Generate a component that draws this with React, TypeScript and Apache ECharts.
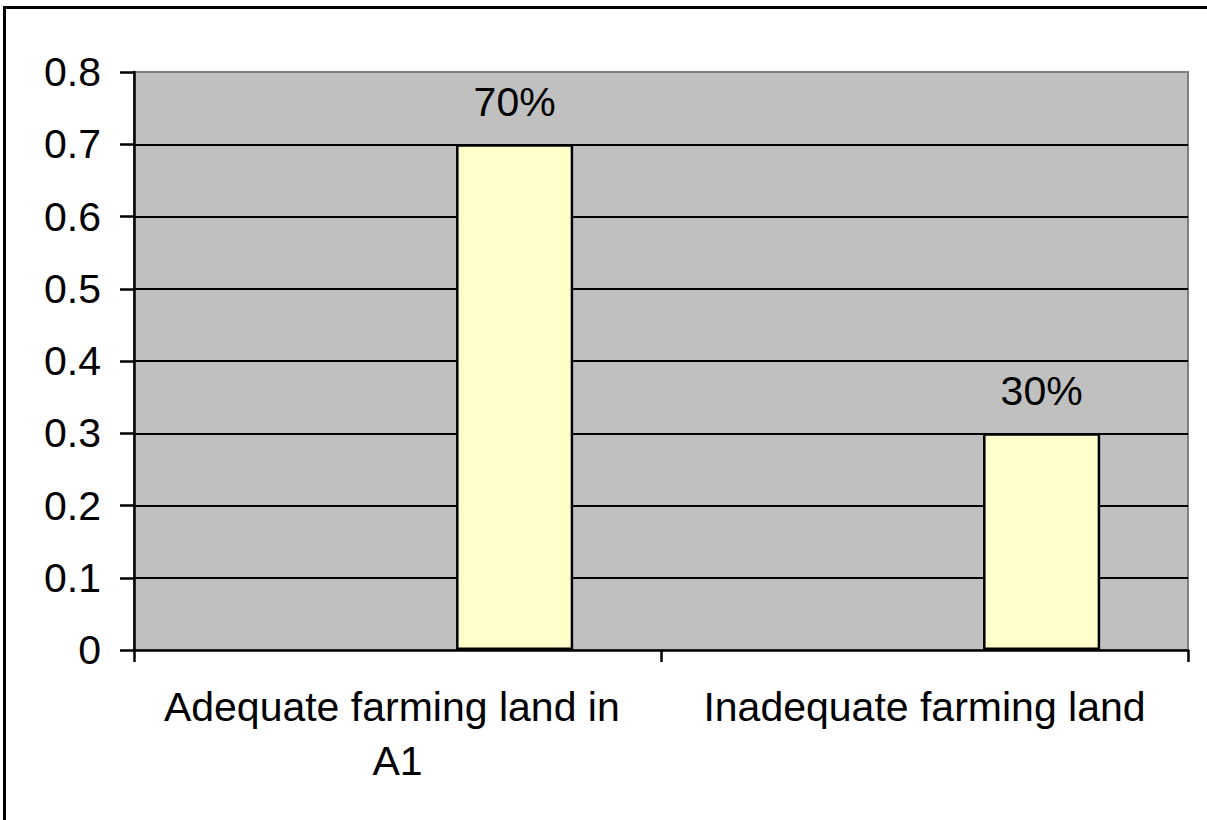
import React, { useEffect, useRef } from "react";
import * as echarts from "echarts";

const categories = ["Adequate farming land in A1", "Inadequate farming land"];
const emptySeriesA: (number | null)[] = [null, null];
const emptySeriesB: (number | null)[] = [null, null];
const shareValues = [0.7, 0.3];
const yTicks = { min: 0, max: 0.8, interval: 0.1 };

const FONT = "Arial, 'Liberation Sans', Helvetica, sans-serif";
const FS = 41;

export default function App() {
  const ref = useRef<HTMLDivElement>(null);
  useEffect(() => {
    if (!ref.current) return;
    const chart = echarts.init(ref.current, null, { renderer: "svg" });
    chart.setOption({
      animation: false,
      backgroundColor: "#ffffff",
      textStyle: { fontFamily: FONT },
      grid: {
        left: 134,
        right: 19,
        top: 72,
        bottom: 170,
        show: true,
        backgroundColor: "#C0C0C0",
        borderColor: "#808080",
        borderWidth: 2,
        containLabel: false,
      },
      xAxis: {
        type: "category",
        data: categories,
        boundaryGap: true,
        axisLine: { show: true, lineStyle: { color: "#000", width: 2.5 } },
        axisTick: { show: true, length: 12, interval: 0, lineStyle: { color: "#000", width: 2.5 } },
        axisLabel: {
          interval: 0,
          color: "#000",
          fontSize: FS,
          fontFamily: FONT,
          margin: 30,
          lineHeight: 54,
          width: 480,
          overflow: "break",
          align: "center",
        },
        splitLine: { show: false },
      },
      yAxis: {
        type: "value",
        min: yTicks.min,
        max: yTicks.max,
        interval: yTicks.interval,
        axisLine: { show: true, lineStyle: { color: "#000", width: 2.5 } },
        axisTick: { show: true, length: 14, lineStyle: { color: "#000", width: 2.5 } },
        axisLabel: {
          color: "#000",
          fontSize: FS,
          fontFamily: FONT,
          margin: 33,
          formatter: (v: number) => String(Math.round(v * 10) / 10),
        },
        splitLine: {
          show: true,
          showMinLine: false,
          showMaxLine: false,
          lineStyle: { color: "#000", width: 2 },
        },
      },
      series: [
        { type: "bar", data: emptySeriesA, barGap: "0%", barCategoryGap: "33.333%" },
        { type: "bar", data: emptySeriesB, barGap: "0%", barCategoryGap: "33.333%" },
        {
          type: "bar",
          data: shareValues,
          barGap: "0%",
          barCategoryGap: "33.333%",
          itemStyle: { color: "#FFFFCC", borderColor: "#000", borderWidth: 2.5 },
          label: {
            show: true,
            position: "top",
            distance: 22,
            color: "#000",
            fontSize: FS,
            fontFamily: FONT,
            formatter: (p: any) => Math.round(p.value * 100) + "%",
          },
        },
      ],
      graphic: [
        {
          type: "rect",
          shape: { x: 4.5, y: 7.5, width: 1400, height: 1000 },
          style: { fill: "none", stroke: "#000", lineWidth: 3 },
          silent: true,
          z: 100,
        },
      ],
    });
    return () => chart.dispose();
  }, []);
  return (
    <div
      ref={ref}
      style={{ position: "absolute", left: 0, top: 0, width: 1207, height: 820 }}
    />
  );
}
